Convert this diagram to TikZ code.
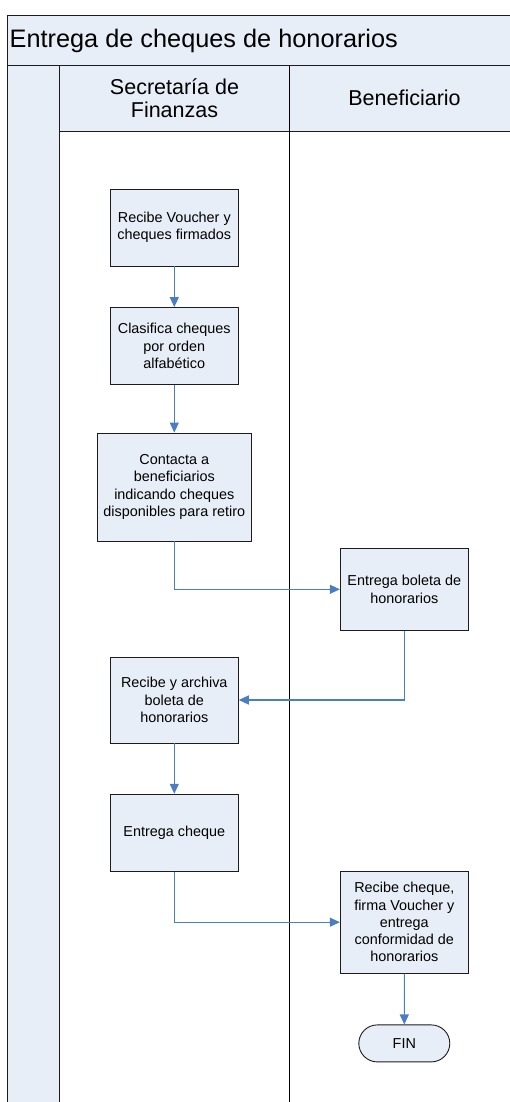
\documentclass[tikz,border=0pt]{standalone}
\usepackage{fontspec}
\setmainfont{Liberation Sans}
\usetikzlibrary{arrows.meta,shapes.misc}
\definecolor{lanefill}{RGB}{232,238,247}
\definecolor{flowblue}{RGB}{74,126,193}
\definecolor{boxline}{RGB}{28,28,28}
\tikzset{
  frameline/.style={draw=boxline,line width=1.2pt},
  laneline/.style={draw=black,line width=1pt},
  stepbox/.style={draw=boxline,fill=lanefill,line width=0.9pt,align=center,
    inner sep=2pt,font=\fontsize{14.4}{17.3}\selectfont},
  endbox/.style={stepbox,rounded rectangle},
  flow/.style={draw=flowblue,line width=1.1pt,-{Triangle[length=10pt,width=9pt]}},
}
\begin{document}
\begin{tikzpicture}[x=1pt,y=-1pt]
\useasboundingbox (0,0) rectangle (510,1102);
\clip (0,0) rectangle (510,1102);

% pool background: title band, left strip and lane headers
\fill[lanefill] (7.5,15.5) rectangle (520,65.5);
\fill[lanefill] (7.5,65.5) rectangle (59.5,1110);
\fill[lanefill] (59.5,65.5) rectangle (520,131.5);

% pool and lane borders
\draw[frameline] (520,15.5) -- (7.5,15.5) -- (7.5,1110);
\draw[frameline] (7.5,65.5) -- (520,65.5);
\draw[frameline] (59.5,65.5) -- (59.5,1110);
\draw[frameline] (59.5,131.5) -- (520,131.5);
\draw[laneline] (289.5,65.5) -- (289.5,1110);

% titles
\node[anchor=west,inner sep=0pt,font=\fontsize{25.3}{30}\selectfont] (title) at (9.5,40.5)
  {Entrega de cheques de honorarios};
\node[align=center,inner sep=0pt,font=\fontsize{21.5}{23}\selectfont] (lane1) at (174.5,98)
  {Secretaría de\\Finanzas};
\node[align=center,inner sep=0pt,font=\fontsize{21.5}{23}\selectfont] (lane2) at (404.5,98)
  {Beneficiario};

% process steps
\node[stepbox,minimum width=128pt,minimum height=77pt] (b1) at (174.3,227.5)
  {Recibe Voucher y\\cheques firmados};
\node[stepbox,minimum width=128pt,minimum height=77pt] (b2) at (174.3,346)
  {Clasifica cheques\\por orden\\alfabético};
\node[stepbox,minimum width=154pt,minimum height=108pt] (b3) at (174.3,487)
  {Contacta a\\beneficiarios\\indicando cheques\\disponibles para retiro};
\node[stepbox,minimum width=128pt,minimum height=82pt] (b4) at (404.3,589.3)
  {Entrega boleta de\\honorarios};
\node[stepbox,minimum width=128pt,minimum height=86pt] (b5) at (174.3,700)
  {Recibe y archiva\\boleta de\\honorarios};
\node[stepbox,minimum width=128pt,minimum height=77pt] (b6) at (174.3,832.7)
  {Entrega cheque};
\node[stepbox,minimum width=128pt,minimum height=102pt] (b7) at (404.3,922.2)
  {Recibe cheque,\\firma Voucher y\\entrega\\conformidad de\\honorarios};
\node[endbox,minimum width=95pt,minimum height=37pt] (fin) at (404.3,1043.4) {FIN};

% connectors
\draw[flow] (b1) -- (b2);
\draw[flow] (b2) -- (b3);
\draw[flow] (b3.south) |- (b4.west);
\draw[flow] (b4.south) |- (b5.east);
\draw[flow] (b5) -- (b6);
\draw[flow] (b6.south) |- (b7.west);
\draw[flow] (b7) -- (fin);
\end{tikzpicture}
\end{document}
